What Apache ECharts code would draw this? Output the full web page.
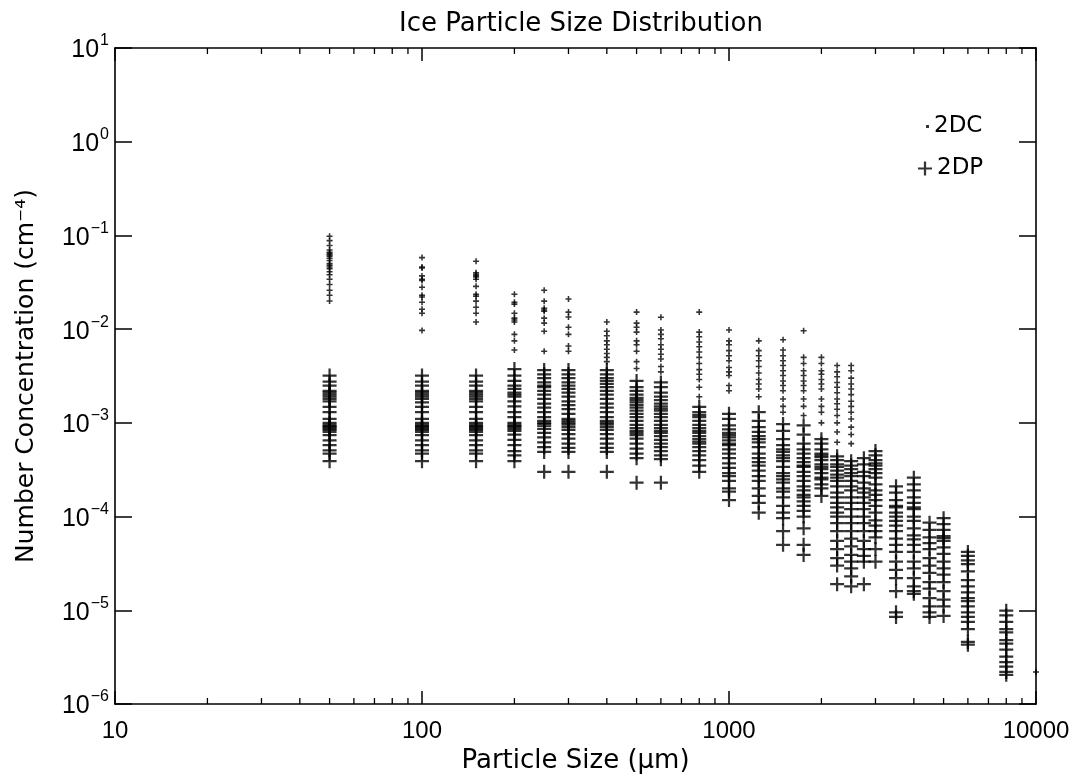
<!DOCTYPE html>
<html>
<head>
<meta charset="utf-8">
<script src="https://cdn.jsdelivr.net/npm/echarts@6/dist/echarts.min.js"></script>
<style>html,body{margin:0;padding:0;background:#fff}#c{width:1075px;height:779px}</style>
</head>
<body>
<div id="c"></div>
<script>
// Particle sizes (µm) of the measurement bins
const sizes = [50,100,150,200,250,300,400,500,600,800,1000,1250,1500,1750,2000,2250,2500,2750,3000,3500,4000,4500,5000,6000,8000,10000];

// 2DC probe concentrations (cm^-4), one list per size bin
const dc = [
  [0.098,0.088,0.078,0.070,0.066,0.064,0.062,0.060,0.057,0.054,0.050,0.048,0.046,0.044,0.041,0.038,0.034,0.030,0.026,0.023,0.020],
  [0.058,0.046,0.045,0.037,0.034,0.033,0.028,0.023,0.022,0.0194,0.0163,0.0148,0.0097],
  [0.053,0.040,0.0385,0.037,0.036,0.034,0.0286,0.0236,0.0225,0.0199,0.0171,0.0148,0.0119],
  [0.0236,0.0194,0.0185,0.0148,0.0131,0.0125,0.0119,0.0088,0.0075,0.006],
  [0.026,0.0199,0.0167,0.016,0.0155,0.0131,0.0116,0.0095,0.0058],
  [0.021,0.0152,0.0135,0.0105,0.0088,0.0066,0.0058],
  [0.0119,0.0095,0.0085,0.0075,0.0068,0.0061,0.0055,0.005,0.0045],
  [0.0152,0.0116,0.0105,0.0093,0.0075,0.0068,0.0058,0.0045,0.0038],
  [0.0134,0.0098,0.0088,0.0079,0.0068,0.0061,0.0054,0.0048,0.004,0.0035],
  [0.0152,0.0093,0.0083,0.0073,0.0065,0.0057,0.005,0.0043,0.0037,0.0033,0.0029,0.0024,0.0019],
  [0.0098,0.0075,0.0068,0.0059,0.0052,0.0046,0.0039,0.0035,0.0032,0.0025,0.0022],
  [0.0075,0.0059,0.0052,0.0046,0.004,0.0034,0.0029,0.0026,0.0023,0.0019],
  [0.0077,0.006,0.0052,0.0046,0.0041,0.0036,0.0032,0.0028,0.0025,0.0022,0.0018,0.0015,0.0013],
  [0.0096,0.005,0.0043,0.0036,0.0032,0.0028,0.0025,0.0022,0.0018,0.0015,0.0012],
  [0.005,0.0043,0.0036,0.0033,0.0029,0.0026,0.0023,0.0018,0.0015,0.0013,0.001],
  [0.0041,0.0035,0.0031,0.0027,0.0024,0.0021,0.0018,0.0016,0.0014,0.0012,0.001,0.0008,0.00062],
  [0.0041,0.0036,0.003,0.0026,0.0023,0.002,0.0017,0.0015,0.0013,0.0011,0.0009,0.00075,0.0006],
  [],[],[],[],[],[],[],[],
  [2.2e-6]
];

// 2DP probe concentrations (cm^-4), one list per size bin
const dp = [
  [3.2e-3,2.75e-3,2.5e-3,2.2e-3,2.1e-3,2.0e-3,1.9e-3,1.8e-3,1.7e-3,1.48e-3,1.3e-3,1.1e-3,1.0e-3,0.95e-3,0.92e-3,0.9e-3,0.87e-3,0.84e-3,0.8e-3,0.74e-3,0.65e-3,0.58e-3,0.51e-3,0.47e-3,0.39e-3],
  [3.2e-3,2.75e-3,2.5e-3,2.2e-3,2.1e-3,2.0e-3,1.9e-3,1.8e-3,1.65e-3,1.48e-3,1.3e-3,1.1e-3,1.0e-3,0.95e-3,0.92e-3,0.9e-3,0.87e-3,0.84e-3,0.8e-3,0.74e-3,0.65e-3,0.58e-3,0.51e-3,0.47e-3,0.39e-3],
  [3.2e-3,2.75e-3,2.5e-3,2.2e-3,2.1e-3,2.0e-3,1.9e-3,1.8e-3,1.7e-3,1.48e-3,1.3e-3,1.1e-3,1.0e-3,0.95e-3,0.92e-3,0.9e-3,0.87e-3,0.84e-3,0.8e-3,0.74e-3,0.65e-3,0.58e-3,0.51e-3,0.47e-3,0.39e-3],
  [3.75e-3,3.2e-3,2.8e-3,2.5e-3,2.3e-3,2.1e-3,2.0e-3,1.9e-3,1.7e-3,1.5e-3,1.3e-3,1.15e-3,1.0e-3,0.95e-3,0.92e-3,0.9e-3,0.86e-3,0.82e-3,0.75e-3,0.66e-3,0.58e-3,0.5e-3,0.45e-3,0.39e-3],
  [3.66e-3,3.3e-3,3.0e-3,2.7e-3,2.5e-3,2.4e-3,2.2e-3,2.0e-3,1.8e-3,1.6e-3,1.45e-3,1.3e-3,1.15e-3,1.05e-3,1.0e-3,0.97e-3,0.92e-3,0.86e-3,0.78e-3,0.7e-3,0.62e-3,0.55e-3,0.49e-3,0.3e-3],
  [3.66e-3,3.3e-3,3.0e-3,2.7e-3,2.5e-3,2.3e-3,2.1e-3,1.9e-3,1.7e-3,1.55e-3,1.4e-3,1.25e-3,1.1e-3,1.05e-3,1.0e-3,0.96e-3,0.9e-3,0.84e-3,0.76e-3,0.68e-3,0.6e-3,0.54e-3,0.49e-3,0.3e-3],
  [3.66e-3,3.3e-3,3.0e-3,2.8e-3,2.6e-3,2.4e-3,2.2e-3,2.0e-3,1.8e-3,1.6e-3,1.45e-3,1.3e-3,1.15e-3,1.05e-3,1.0e-3,0.96e-3,0.9e-3,0.84e-3,0.76e-3,0.68e-3,0.6e-3,0.54e-3,0.49e-3,0.3e-3],
  [2.8e-3,2.4e-3,2.2e-3,2.0e-3,1.85e-3,1.75e-3,1.65e-3,1.55e-3,1.45e-3,1.35e-3,1.25e-3,1.15e-3,1.05e-3,0.95e-3,0.88e-3,0.82e-3,0.78e-3,0.74e-3,0.68e-3,0.6e-3,0.53e-3,0.47e-3,0.42e-3,0.23e-3],
  [2.7e-3,2.4e-3,2.1e-3,1.9e-3,1.75e-3,1.6e-3,1.5e-3,1.42e-3,1.35e-3,1.25e-3,1.15e-3,1.05e-3,0.95e-3,0.88e-3,0.82e-3,0.78e-3,0.72e-3,0.66e-3,0.6e-3,0.55e-3,0.5e-3,0.45e-3,0.41e-3,0.23e-3],
  [1.48e-3,1.3e-3,1.22e-3,1.15e-3,1.05e-3,0.95e-3,0.88e-3,0.82e-3,0.78e-3,0.72e-3,0.67e-3,0.63e-3,0.6e-3,0.55e-3,0.5e-3,0.45e-3,0.4e-3,0.35e-3,0.3e-3],
  [1.25e-3,1.1e-3,0.94e-3,0.85e-3,0.78e-3,0.74e-3,0.7e-3,0.65e-3,0.6e-3,0.58e-3,0.52e-3,0.47e-3,0.42e-3,0.37e-3,0.33e-3,0.29e-3,0.27e-3,0.24e-3,0.2e-3,0.185e-3,0.15e-3],
  [1.3e-3,1.05e-3,0.9e-3,0.8e-3,0.72e-3,0.67e-3,0.62e-3,0.55e-3,0.47e-3,0.42e-3,0.38e-3,0.35e-3,0.31e-3,0.27e-3,0.24e-3,0.2e-3,0.166e-3,0.14e-3,0.11e-3],
  [0.97e-3,0.82e-3,0.67e-3,0.58e-3,0.52e-3,0.49e-3,0.45e-3,0.42e-3,0.39e-3,0.34e-3,0.29e-3,0.27e-3,0.25e-3,0.23e-3,0.2e-3,0.185e-3,0.16e-3,0.13e-3,0.11e-3,0.096e-3,0.07e-3,0.05e-3],
  [0.94e-3,0.75e-3,0.6e-3,0.52e-3,0.47e-3,0.42e-3,0.38e-3,0.35e-3,0.34e-3,0.3e-3,0.27e-3,0.24e-3,0.21e-3,0.19e-3,0.17e-3,0.16e-3,0.145e-3,0.13e-3,0.115e-3,0.1e-3,0.075e-3,0.05e-3,0.039e-3],
  [0.67e-3,0.6e-3,0.52e-3,0.47e-3,0.45e-3,0.43e-3,0.4e-3,0.36e-3,0.34e-3,0.32e-3,0.29e-3,0.26e-3,0.25e-3,0.22e-3,0.2e-3,0.166e-3],
  [0.44e-3,0.4e-3,0.36e-3,0.34e-3,0.31e-3,0.28e-3,0.26e-3,0.24e-3,0.21e-3,0.18e-3,0.16e-3,0.14e-3,0.125e-3,0.11e-3,0.1e-3,0.085e-3,0.07e-3,0.055e-3,0.045e-3,0.036e-3,0.03e-3,0.019e-3],
  [0.39e-3,0.35e-3,0.32e-3,0.29e-3,0.27e-3,0.24e-3,0.21e-3,0.19e-3,0.16e-3,0.14e-3,0.12e-3,0.1e-3,0.085e-3,0.07e-3,0.058e-3,0.048e-3,0.039e-3,0.033e-3,0.028e-3,0.023e-3,0.018e-3],
  [0.42e-3,0.36e-3,0.3e-3,0.27e-3,0.23e-3,0.2e-3,0.18e-3,0.16e-3,0.14e-3,0.12e-3,0.1e-3,0.085e-3,0.07e-3,0.055e-3,0.045e-3,0.038e-3,0.033e-3,0.019e-3],
  [0.5e-3,0.45e-3,0.4e-3,0.37e-3,0.35e-3,0.32e-3,0.29e-3,0.26e-3,0.22e-3,0.19e-3,0.17e-3,0.15e-3,0.13e-3,0.11e-3,0.091e-3,0.08e-3,0.07e-3,0.06e-3,0.045e-3,0.033e-3],
  [0.21e-3,0.18e-3,0.15e-3,0.13e-3,0.125e-3,0.11e-3,0.1e-3,0.09e-3,0.08e-3,0.07e-3,0.058e-3,0.05e-3,0.042e-3,0.033e-3,0.027e-3,0.022e-3,0.016e-3,0.0095e-3,0.0085e-3],
  [0.26e-3,0.22e-3,0.19e-3,0.16e-3,0.14e-3,0.125e-3,0.12e-3,0.1e-3,0.09e-3,0.075e-3,0.063e-3,0.057e-3,0.05e-3,0.042e-3,0.033e-3,0.028e-3,0.022e-3,0.018e-3,0.016e-3,0.015e-3],
  [0.086e-3,0.072e-3,0.06e-3,0.052e-3,0.045e-3,0.036e-3,0.03e-3,0.025e-3,0.02e-3,0.017e-3,0.0135e-3,0.011e-3,0.0095e-3,0.0085e-3],
  [0.096e-3,0.083e-3,0.072e-3,0.062e-3,0.059e-3,0.055e-3,0.047e-3,0.04e-3,0.033e-3,0.028e-3,0.024e-3,0.02e-3,0.016e-3,0.013e-3,0.011e-3,0.0087e-3],
  [0.042e-3,0.038e-3,0.034e-3,0.031e-3,0.026e-3,0.021e-3,0.018e-3,0.0155e-3,0.0135e-3,0.0125e-3,0.011e-3,0.0095e-3,0.0085e-3,0.0075e-3,0.0063e-3,0.0046e-3,0.0043e-3],
  [9.9e-6,8.8e-6,7.5e-6,6.3e-6,5.8e-6,4.8e-6,4.4e-6,3.8e-6,3.2e-6,2.8e-6,2.5e-6,2.2e-6,2.05e-6],
  []
];

// minor tick positions on the log x axis
const minorTicks = [20,30,40,50,60,70,80,90,200,300,400,500,600,700,800,900,2000,3000,4000,5000,6000,7000,8000,9000];

const FONT = 'DejaVu Sans';
const NUMFONT = 'Liberation Sans';
const PLUS = 'path://M4.2,0h1.6v10h-1.6z M0,4.2h10v1.6h-10z';
const SPLUS = 'path://M3.7,0h2.6v10h-2.6z M0,3.7h10v2.6h-10z';

function pairs(lists){
  const out = [];
  lists.forEach((vals, i) => vals.forEach(v => out.push([sizes[i], v])));
  return out;
}

function expLabel(v){
  const e = Math.round(Math.log10(v));
  return '{b|10}{e|' + String(e).replace('-', '\u2212') + '}';
}

const chart = echarts.init(document.getElementById('c'), null, {renderer: 'canvas'});
const axisLine = {show: true, lineStyle: {color: '#000', width: 1.6}};

chart.setOption({
  backgroundColor: '#fff',
  animation: false,
  title: {
    text: 'Ice Particle Size Distribution',
    left: 576, top: 6, textAlign: 'center',
    textStyle: {fontFamily: FONT, fontWeight: 'normal', fontSize: 26, color: '#000'}
  },
  legend: [
    {data: ['2DC'], left: 921, top: 110, itemWidth: 3, itemHeight: 3, icon: 'rect',
     textStyle: {fontFamily: FONT, fontSize: 23, color: '#000'}},
    {data: ['2DP'], left: 913, top: 152, itemWidth: 14, itemHeight: 14, icon: PLUS,
     textStyle: {fontFamily: FONT, fontSize: 23, color: '#000'}}
  ],
  grid: {left: 115, right: 39, top: 48, bottom: 73},
  xAxis: [{
    type: 'log', logBase: 10, min: 10, max: 10000, interval: 1,
    position: 'bottom',
    axisLine: axisLine,
    axisTick: {show: true, inside: true, length: 13, lineStyle: {color: '#000', width: 1.5}},
    splitLine: {show: false},
    axisLabel: {fontFamily: NUMFONT, fontSize: 24, color: '#000', margin: 15,
      formatter: v => String(Math.round(v))},
    name: 'Particle Size (\u03bcm)',
    nameLocation: 'middle', nameGap: 44,
    nameTextStyle: {fontFamily: FONT, fontSize: 26, color: '#000'}
  }, {
    type: 'log', logBase: 10, min: 10, max: 10000, interval: 1,
    position: 'top',
    axisLine: axisLine,
    axisTick: {show: true, inside: true, length: 13, lineStyle: {color: '#000', width: 1.5}},
    splitLine: {show: false},
    axisLabel: {show: false}
  }],
  yAxis: [{
    type: 'log', logBase: 10, min: 1e-6, max: 10, interval: 1,
    position: 'left',
    axisLine: axisLine,
    axisTick: {show: true, inside: true, length: 17, lineStyle: {color: '#000', width: 1.5}},
    splitLine: {show: false},
    axisLabel: {
      margin: 6, formatter: expLabel,
      rich: {
        b: {fontFamily: NUMFONT, fontSize: 25, color: '#000', lineHeight: 30, verticalAlign: 'bottom'},
        e: {fontFamily: NUMFONT, fontSize: 16, color: '#000', lineHeight: 30, verticalAlign: 'top', padding: [0, 0, 0, 1]}
      }
    },
    name: 'Number Concentration (cm\u207b\u2074)',
    nameLocation: 'middle', nameGap: 76, nameRotate: 90,
    nameTextStyle: {fontFamily: FONT, fontSize: 25, color: '#000'}
  }, {
    type: 'log', logBase: 10, min: 1e-6, max: 10, interval: 1,
    position: 'right',
    axisLine: axisLine,
    axisTick: {show: true, inside: true, length: 17, lineStyle: {color: '#000', width: 1.5}},
    splitLine: {show: false},
    axisLabel: {show: false}
  }],
  series: [
    {
      name: '2DC', type: 'scatter', xAxisIndex: 0, yAxisIndex: 0,
      symbol: SPLUS, symbolSize: 6,
      itemStyle: {color: '#000'},
      data: pairs(dc)
    },
    {
      name: '2DP', type: 'scatter', xAxisIndex: 0, yAxisIndex: 0,
      symbol: PLUS, symbolSize: 14,
      itemStyle: {color: '#000'},
      data: pairs(dp)
    },
    {
      name: 'minor', type: 'custom', xAxisIndex: 0, yAxisIndex: 0,
      silent: true, clip: false,
      data: minorTicks.map(v => [v]),
      renderItem: function(params, api){
        const v = api.value(0);
        const b = api.coord([v, 1e-6]);
        const t = api.coord([v, 10]);
        const st = {stroke: '#000', lineWidth: 1.3};
        return {type: 'group', children: [
          {type: 'line', shape: {x1: b[0], y1: b[1], x2: b[0], y2: b[1] - 6}, style: st},
          {type: 'line', shape: {x1: t[0], y1: t[1], x2: t[0], y2: t[1] + 6}, style: st}
        ]};
      }
    }
  ]
});
</script>
</body>
</html>
